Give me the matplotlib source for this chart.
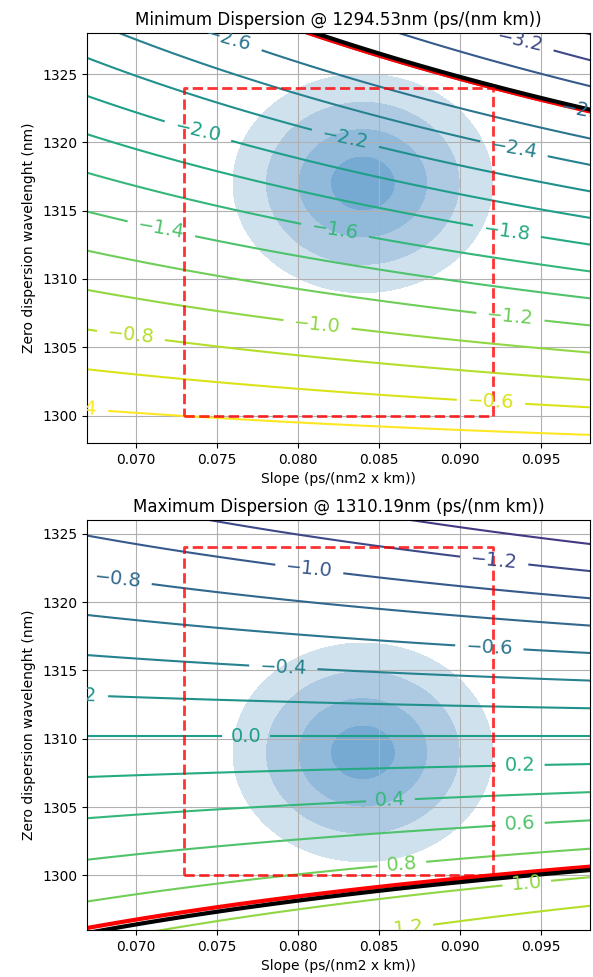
import numpy as np
import matplotlib.pyplot as plt

# wavelengths where min / max dispersion is checked (nm)
wl_min = 1294.53
wl_max = 1310.19

# axis ranges
slope_lim = [0.067, 0.098]
lambda0_lim_min = [1298, 1328]
lambda0_lim_max = [1296, 1326]

# allowed fibre parameter box
box_slope = [0.073, 0.092]
box_lambda0 = [1300, 1324]

# fibre population: centre and sigma
pop_slope = 0.084
pop_slope_sigma = 0.002
pop_lambda0_min = 1317
pop_lambda0_max = 1309
pop_lambda0_sigma = 2.0
sigma_levels = [0, 1, 2, 3, 4]
pop_colors = ['#76aad2', '#90b9da', '#aecae3', '#d0e1ee']

# contour levels
levels_min = [-4.0, -3.8, -3.6, -3.4, -3.2, -3.0, -2.8, -2.6, -2.4, -2.2,
              -2.0, -1.8, -1.6, -1.4, -1.2, -1.0, -0.8, -0.6, -0.4]
levels_max = [-2.0, -1.8, -1.6, -1.4, -1.2, -1.0, -0.8, -0.6, -0.4, -0.2,
              0.0, 0.2, 0.4, 0.6, 0.8, 1.0, 1.2, 1.4, 1.6]

# spec limit (black) and box worst case (red)
spec_min = -2.82
spec_max = 0.95
worst_min = -2.806
worst_max = 0.926

# where the contour labels sit
labels_min = [(0.0757, 1327.4), (0.0937, 1327.4), (0.0977, 1322.6),
              (0.0738, 1320.6), (0.0829, 1320.1), (0.0933, 1319.4),
              (0.0716, 1313.8), (0.0823, 1313.7), (0.0929, 1313.7),
              (0.0931, 1307.3), (0.0812, 1306.6), (0.0697, 1305.8),
              (0.0919, 1301.0), (0.0662, 1300.3)]
labels_max = [(0.0921, 1323.1), (0.0807, 1322.4), (0.0689, 1321.7),
              (0.0918, 1316.7), (0.0791, 1315.2), (0.0662, 1313.2),
              (0.0768, 1310.3), (0.0937, 1308.1), (0.0857, 1305.4),
              (0.0937, 1303.9), (0.0864, 1300.85), (0.0941, 1299.5),
              (0.0868, 1296.5)]


def dispersion(wl, slope, lambda0):
    return slope / 4 * (wl - lambda0 ** 4 / wl ** 3)


def fmt(v):
    if abs(v) < 1e-9:
        v = 0.0
    return f'{v:.1f}'.replace('-', '\u2212')


def draw(ax, wl, title, ylim, pop_l0, levels, labels, spec, worst):
    s = np.linspace(0.064, 0.101, 400)
    l0 = np.linspace(1290, 1334, 400)
    S, L = np.meshgrid(s, l0)
    D = dispersion(wl, S, L)

    dist = np.sqrt(((S - pop_slope) / pop_slope_sigma) ** 2
                   + ((L - pop_l0) / pop_lambda0_sigma) ** 2)
    ax.contourf(S, L, dist, levels=sigma_levels, colors=pop_colors)

    cs = ax.contour(S, L, D, levels=levels, cmap='viridis', linewidths=1.5)
    ax.clabel(cs, fmt=fmt, fontsize=14, inline=True, manual=labels)

    ax.contour(S, L, D, levels=[worst], colors='red', linewidths=3,
               linestyles='solid')
    ax.contour(S, L, D, levels=[spec], colors='black', linewidths=3,
               linestyles='solid')

    x0, x1 = box_slope
    y0, y1 = box_lambda0
    ax.plot([x0, x1, x1, x0, x0], [y0, y0, y1, y1, y0], '--',
            color='red', alpha=0.8, lw=2)

    ax.set_xlim(slope_lim)
    ax.set_ylim(ylim)
    ax.grid(True)
    ax.set_title(title)
    ax.set_xlabel('Slope (ps/(nm2 x km))')
    ax.set_ylabel('Zero dispersion wavelenght (nm)')


def main():
    fig, (ax1, ax2) = plt.subplots(2, 1, figsize=(5.93, 9.77), dpi=100)
    fig.subplots_adjust(left=0.1467, right=0.9949, top=0.9662,
                        bottom=0.0481, hspace=0.188)

    draw(ax1, wl_min, f'Minimum Dispersion @ {wl_min}nm (ps/(nm km))',
         lambda0_lim_min, pop_lambda0_min, levels_min, labels_min,
         spec_min, worst_min)
    draw(ax2, wl_max, f'Maximum Dispersion @ {wl_max}nm (ps/(nm km))',
         lambda0_lim_max, pop_lambda0_max, levels_max, labels_max,
         spec_max, worst_max)

    fig.savefig('out.png', dpi=100)


if __name__ == "__main__":
    main()
